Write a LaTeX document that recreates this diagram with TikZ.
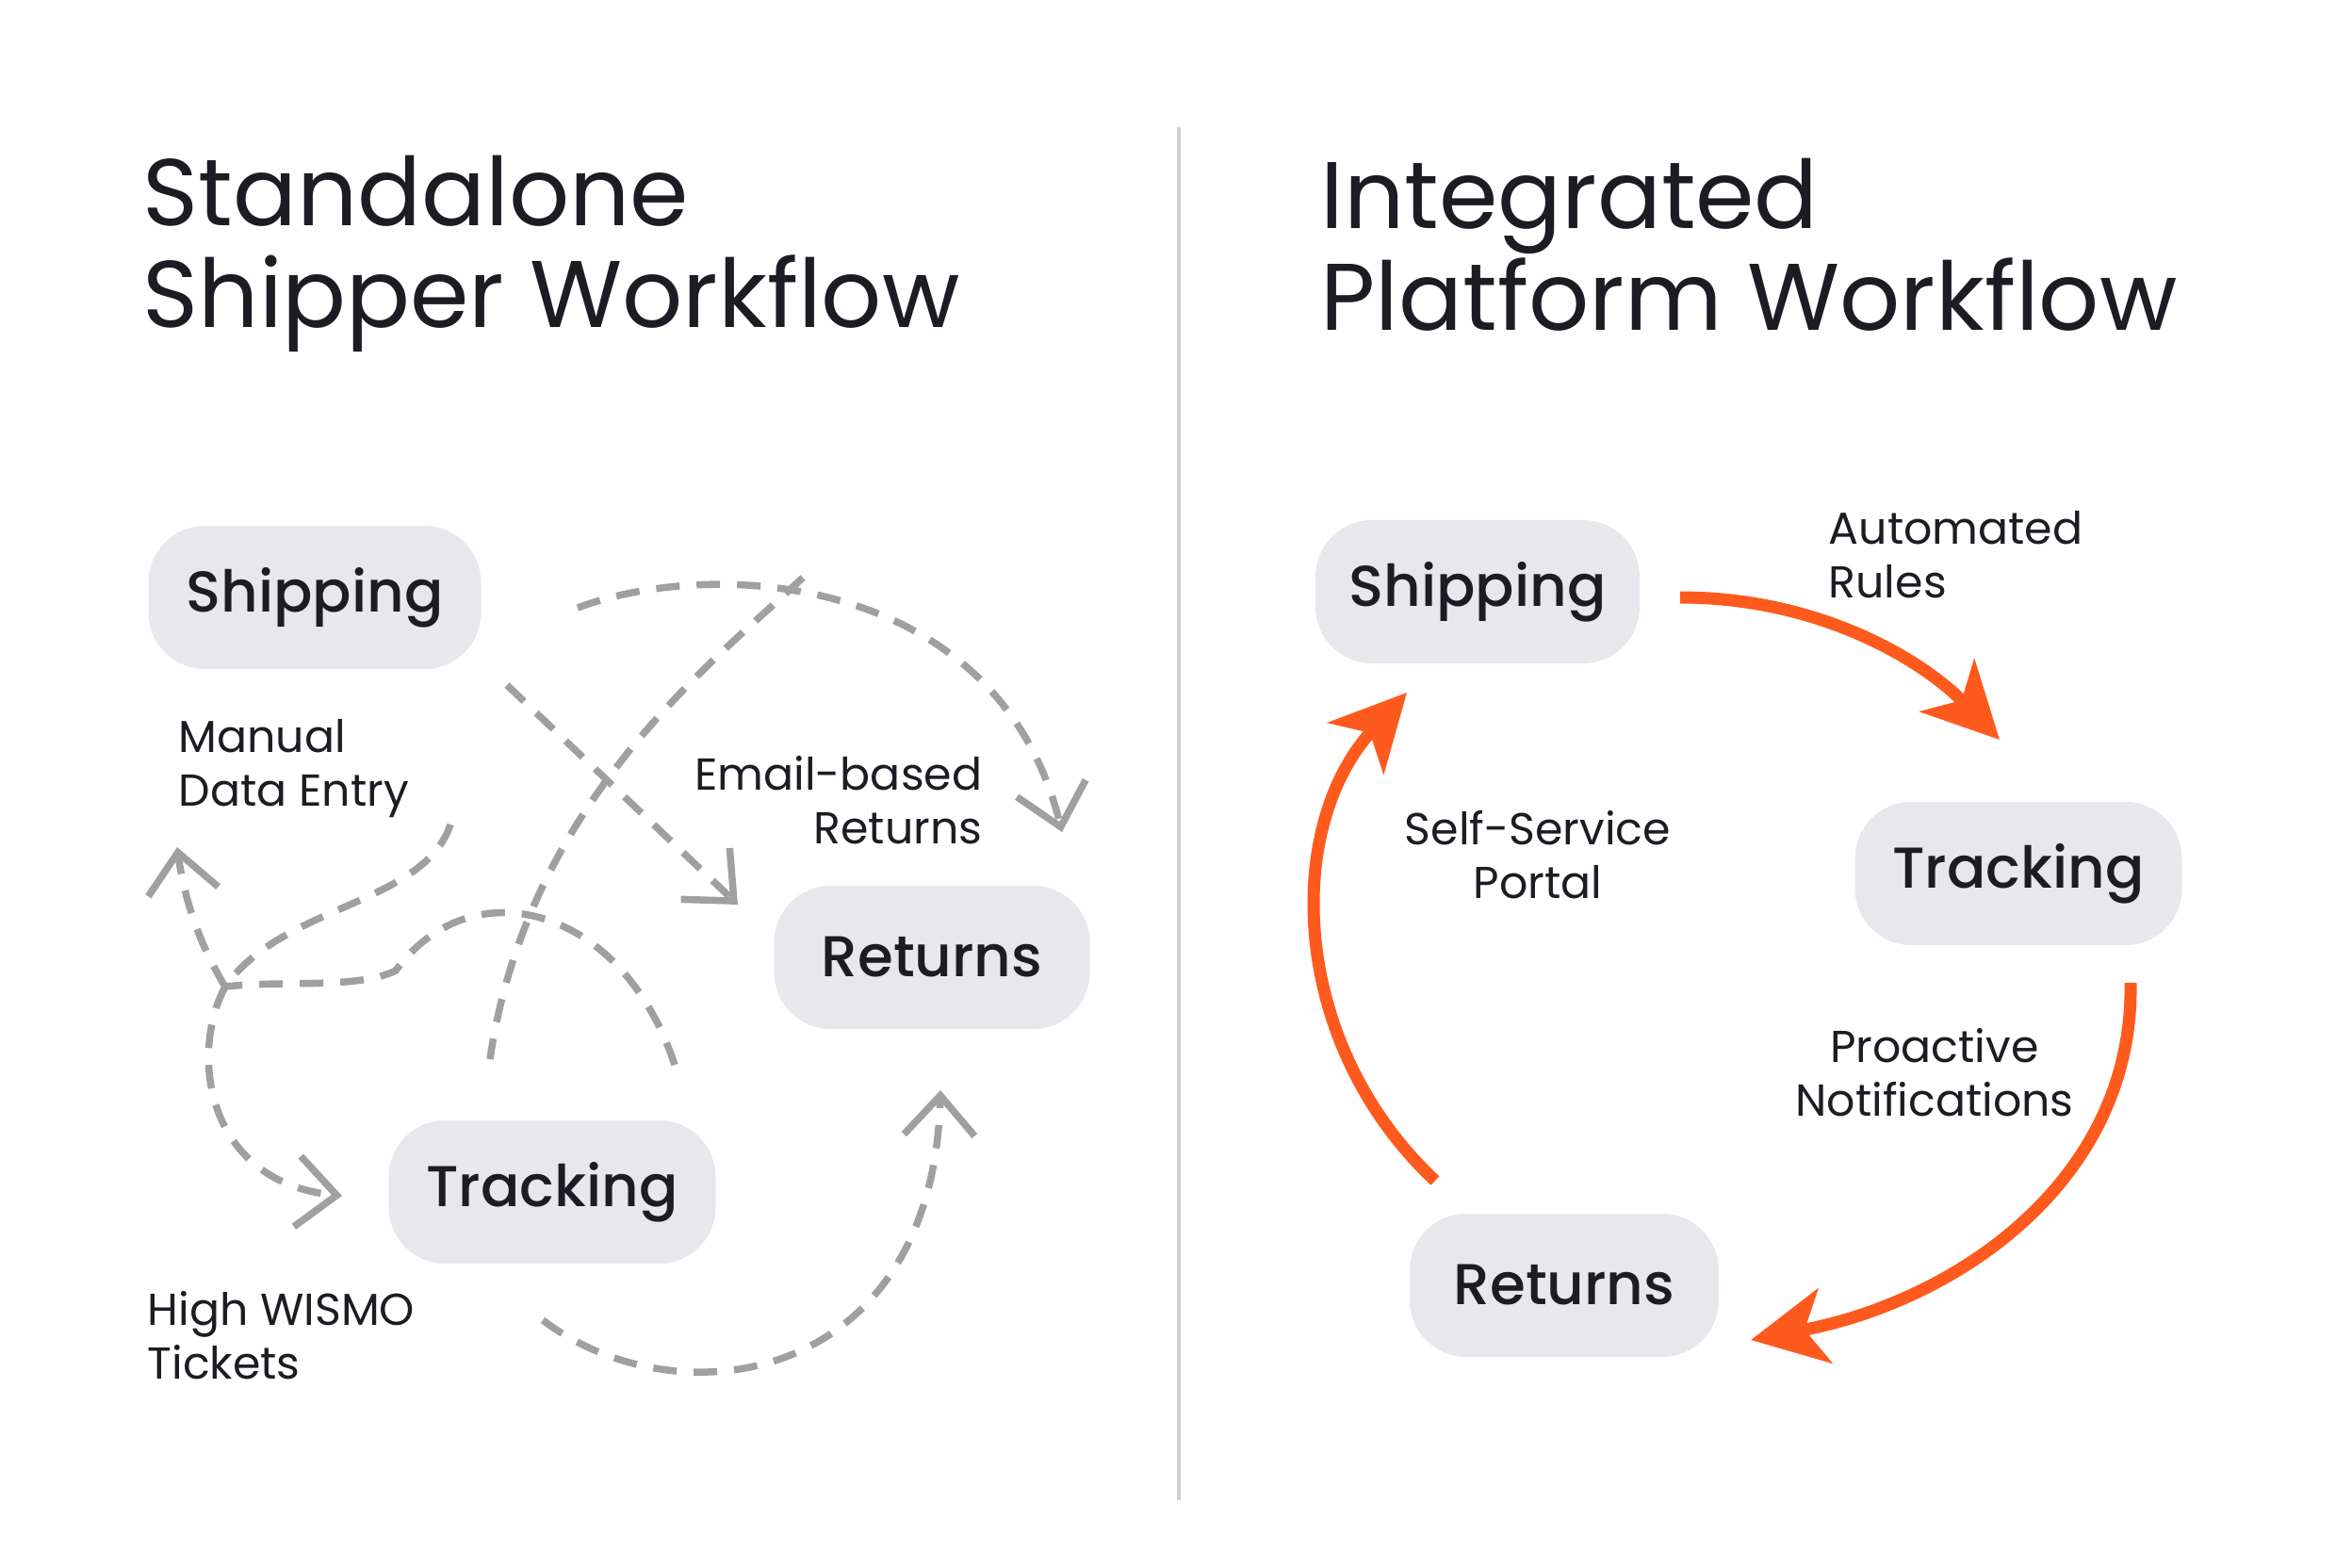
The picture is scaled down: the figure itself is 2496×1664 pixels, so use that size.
\documentclass[tikz,border=0pt]{standalone}
\usepackage{fontspec}
\setmainfont{Poppins}
\newfontfamily\medfont{Poppins Medium}
\usetikzlibrary{arrows.meta}
\definecolor{boxfill}{HTML}{E8E8EC}
\definecolor{ink}{HTML}{1C1C22}
\definecolor{dgray}{HTML}{A0A0A0}
\definecolor{orng}{HTML}{FF5A1E}
\definecolor{divider}{HTML}{CFCFD4}
\begin{document}
\begin{tikzpicture}[x=0.1mm,y=-0.1mm,
  stage/.style={fill=boxfill, rounded corners=6mm, minimum height=15.2mm, inner sep=0pt, text=ink, font=\medfont\fontsize{17.4}{20}\selectfont},
  lab/.style={inner sep=0pt, text=ink, align=left, font=\fontsize{13.5}{16.2}\selectfont},
  ttl/.style={inner sep=0pt, text=ink, align=left, font=\fontsize{28.6}{30.7}\selectfont},
  messy/.style={draw=dgray, line width=0.75mm, dash pattern=on 2.5mm off 1.8mm, line cap=butt},
  messytip/.style={messy, -{Straight Barb[length=4.2mm,width=7.5mm]}},
  flow/.style={draw=orng, line width=1.3mm, -{Stealth[length=8mm,width=8mm,inset=2.2mm]}}
]
\useasboundingbox (0,0) rectangle (2496,1664);
\fill[white] (0,0) rectangle (2496,1664);

% divider
\coordinate (dtop) at (1251,135);
\coordinate (dbot) at (1251,1592);
\draw[divider, line width=0.45mm] (dtop) -- (dbot);

% titles (anchored at last line baseline)
\node[ttl, anchor=base west] (tleft) at (151,347) {Standalone\\Shipper Workflow};
\node[ttl, anchor=base west] (tright) at (1401,350) {Integrated\\Platform Workflow};

% left nodes
\node[stage, minimum width=35.3mm] (lship) at (334,634) {Shipping};
\node[stage, minimum width=33.5mm] (lret) at (989,1016) {Returns};
\node[stage, minimum width=34.7mm] (ltrack) at (586,1265) {Tracking};

% right nodes
\node[stage, minimum width=34.4mm] (rship) at (1568,628) {Shipping};
\node[stage, minimum width=34.7mm] (rtrack) at (2142,927) {Tracking};
\node[stage, minimum width=32.8mm] (rret) at (1660,1364) {Returns};

% labels (anchored at last line baseline)
\node[lab, anchor=base west] (lmanual) at (189,855) {Manual\\Data Entry};
\node[lab, anchor=base east, align=right] (lemail) at (1043,895) {Email-based\\Returns};
\node[lab, anchor=base west] (lwismo) at (156,1463) {High WISMO\\Tickets};
\node[lab, anchor=base west] (rauto) at (1940,634) {Automated\\Rules};
\node[lab, anchor=base, align=center] (rself) at (1632,953) {Self-Service\\Portal};
\node[lab, anchor=base, align=center] (rpro) at (2053,1184) {Proactive\\Notifications};

% left tangle coordinates
\coordinate (a1s) at (538,727);
\coordinate (a1e) at (783,960);
\coordinate (a2s) at (613,645);
\coordinate (a2e) at (1127,883);
\coordinate (a3s) at (852,613);
\coordinate (a3e) at (520,1124);
\coordinate (h1) at (716,1130);
\coordinate (h2) at (420,1030);
\coordinate (jn) at (239,1047);
\coordinate (trkin) at (363,1269);
\coordinate (e1) at (478,875);
\coordinate (upend) at (188,899);
\coordinate (b1) at (576,1401);
\coordinate (b2) at (998,1157);

\draw[messytip] (a1s) -- (a1e);
\draw[messytip] (a2s) .. controls (760,590) and (1060,610) .. (a2e);
\draw[messy] (a3s) .. controls (760,700) and (560,850) .. (a3e);
\draw[messy] (h1) .. controls (660,960) and (500,920) .. (h2) .. controls (380,1050) and (300,1040) .. (jn);
\draw[messytip] (jn) .. controls (200,1120) and (220,1255) .. (trkin);
\draw[messy] (e1) .. controls (450,960) and (300,960) .. (jn);
\draw[messytip] (jn) .. controls (210,1000) and (195,950) .. (upend);
\draw[messytip] (b1) .. controls (720,1510) and (990,1470) .. (b2);

% right flow coordinates
\coordinate (f1s) at (1783,634);
\coordinate (f1e) at (2122,785);
\coordinate (f2s) at (2261,1043);
\coordinate (f2e) at (1858,1422);
\coordinate (f3s) at (1523,1253);
\coordinate (f3e) at (1493,735);

\draw[flow] (f1s) .. controls (1930,634) and (2040,700) .. (f1e);
\draw[flow] (f2s) .. controls (2265,1250) and (2080,1380) .. (f2e);
\draw[flow] (f3s) .. controls (1370,1110) and (1360,880) .. (f3e);
\end{tikzpicture}
\end{document}
